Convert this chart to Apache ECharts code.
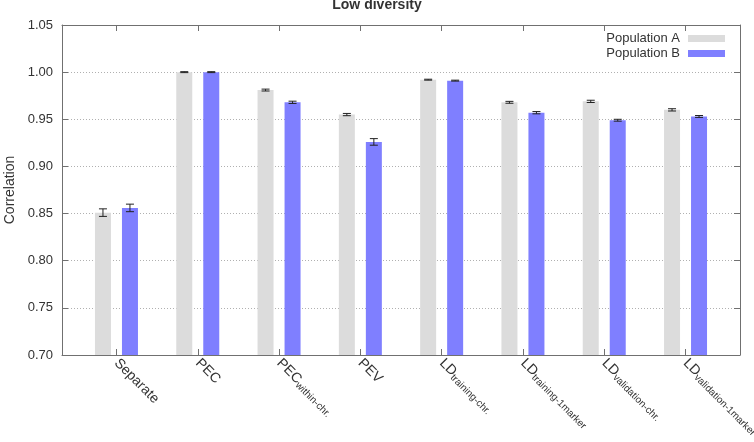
<!DOCTYPE html>
<html>
<head>
<meta charset="utf-8">
<script src="https://cdn.jsdelivr.net/npm/echarts@6/dist/echarts.min.js"></script>
<style>
  html, body { margin: 0; padding: 0; background: #fff; }
  #chart { width: 754px; height: 442px; }
</style>
</head>
<body>
<div id="chart"></div>
<script>
// category labels ({m|..} main text, {s|..} subscript)
const categories = [
  '{m|Separate}',
  '{m|PEC}',
  '{m|PEC}{s|within-chr.}',
  '{m|PEV}',
  '{m|LD}{s|training-chr.}',
  '{m|LD}{s|training-1marker}',
  '{m|LD}{s|validation-chr.}',
  '{m|LD}{s|validation-1marker}'
];
const popA = [0.851, 1.000, 0.981, 0.955, 0.992, 0.968, 0.969, 0.960];
const popAErr = [0.004, 0.0005, 0.001, 0.0012, 0.0005, 0.001, 0.0012, 0.0012];
const popB = [0.856, 1.000, 0.968, 0.926, 0.991, 0.957, 0.949, 0.953];
const popBErr = [0.004, 0.0005, 0.0012, 0.0035, 0.0005, 0.0012, 0.001, 0.001];
const yTicks = [0.70, 0.75, 0.80, 0.85, 0.90, 0.95, 1.00, 1.05];

const catIdx = categories.map((c, i) => i);
const frameColor = '#707070';
const textColor = '#333';
const barOffset = 13.5; // px, centre of each bar from the category centre
const barWidth = 16;
const yMin = 0.7;

const chart = echarts.init(document.getElementById('chart'));

// bars with error bars, drawn through the axes' coord()
function barSeries(name, color, values, errs, dx) {
  return {
    name: name,
    type: 'custom',
    itemStyle: { color: color },
    data: values.map((v, i) => [i, v, errs[i]]),
    encode: { x: 0, y: 1 },
    renderItem: function (params, api) {
      const x = api.value(0), y = api.value(1), e = api.value(2);
      const top = api.coord([x, y]);
      const base = api.coord([x, yMin]);
      const hi = api.coord([x, y + e]);
      const lo = api.coord([x, y - e]);
      const cx = top[0] + dx;
      const cap = 4;
      const style = { stroke: '#222', lineWidth: 1 };
      return {
        type: 'group',
        children: [
          {
            type: 'rect',
            shape: { x: cx - barWidth / 2, y: top[1], width: barWidth, height: base[1] - top[1] },
            style: { fill: color }
          },
          { type: 'line', shape: { x1: cx, y1: hi[1], x2: cx, y2: lo[1] }, style },
          { type: 'line', shape: { x1: cx - cap, y1: hi[1], x2: cx + cap, y2: hi[1] }, style },
          { type: 'line', shape: { x1: cx - cap, y1: lo[1], x2: cx + cap, y2: lo[1] }, style }
        ]
      };
    }
  };
}

const option = {
  animation: false,
  title: {
    text: 'Low diversity',
    left: 'center',
    top: -7,
    textStyle: { fontFamily: 'Liberation Sans', fontSize: 14, fontWeight: 'bold', color: textColor }
  },
  legend: {
    orient: 'vertical',
    right: 24,
    top: 27,
    align: 'right',
    itemWidth: 37,
    itemHeight: 7,
    itemGap: 2,
    icon: 'rect',
    textStyle: { fontFamily: 'Liberation Sans', fontSize: 13, color: textColor, padding: [0, 3, 0, 0] },
    data: ['Population A', 'Population B']
  },
  grid: { left: 62, right: 14, top: 25, bottom: 87, outerBoundsMode: 'none', containLabel: false },
  xAxis: [
    {
      type: 'value',
      position: 'bottom',
      min: -0.67,
      max: 7.67,
      axisLine: { show: true, onZero: false, lineStyle: { color: frameColor } },
      axisTick: { show: true, inside: true, length: 6, customValues: catIdx, lineStyle: { color: frameColor } },
      splitLine: { show: false },
      axisLabel: {
        customValues: catIdx,
        rotate: -45,
        margin: 6,
        hideOverlap: false,
        formatter: v => categories[Math.round(v)],
        rich: {
          m: { fontFamily: 'Liberation Sans', fontSize: 14, color: textColor, lineHeight: 16 },
          s: { fontFamily: 'Liberation Sans', fontSize: 10, color: textColor, padding: [7, 0, 0, 0], lineHeight: 16 }
        }
      }
    },
    {
      type: 'value',
      position: 'top',
      min: -0.67,
      max: 7.67,
      axisLine: { show: true, onZero: false, lineStyle: { color: frameColor } },
      axisTick: { show: true, inside: true, length: 6, customValues: catIdx, lineStyle: { color: frameColor } },
      splitLine: { show: false },
      axisLabel: { show: false }
    }
  ],
  yAxis: [
    {
      type: 'value',
      position: 'left',
      min: yMin,
      max: 1.05,
      interval: 0.05,
      name: 'Correlation',
      nameLocation: 'middle',
      nameGap: 45,
      nameTextStyle: { fontFamily: 'Liberation Sans', fontSize: 14, color: textColor },
      axisLine: { show: true, onZero: false, lineStyle: { color: frameColor } },
      axisTick: { show: true, inside: true, length: 6, lineStyle: { color: frameColor } },
      axisLabel: {
        fontFamily: 'Liberation Sans', fontSize: 13, color: textColor, margin: 9,
        customValues: yTicks,
        formatter: v => v.toFixed(2)
      },
      splitLine: { show: true, lineStyle: { color: '#b0b0b0', type: [1, 2], width: 1 } }
    },
    {
      type: 'value',
      position: 'right',
      min: yMin,
      max: 1.05,
      interval: 0.05,
      axisLine: { show: true, onZero: false, lineStyle: { color: frameColor } },
      axisTick: { show: true, inside: true, length: 6, lineStyle: { color: frameColor } },
      axisLabel: { show: false },
      splitLine: { show: false }
    }
  ],
  series: [
    barSeries('Population A', '#dcdcdc', popA, popAErr, -barOffset),
    barSeries('Population B', '#7f7fff', popB, popBErr, barOffset)
  ]
};

chart.setOption(option);
</script>
</body>
</html>
